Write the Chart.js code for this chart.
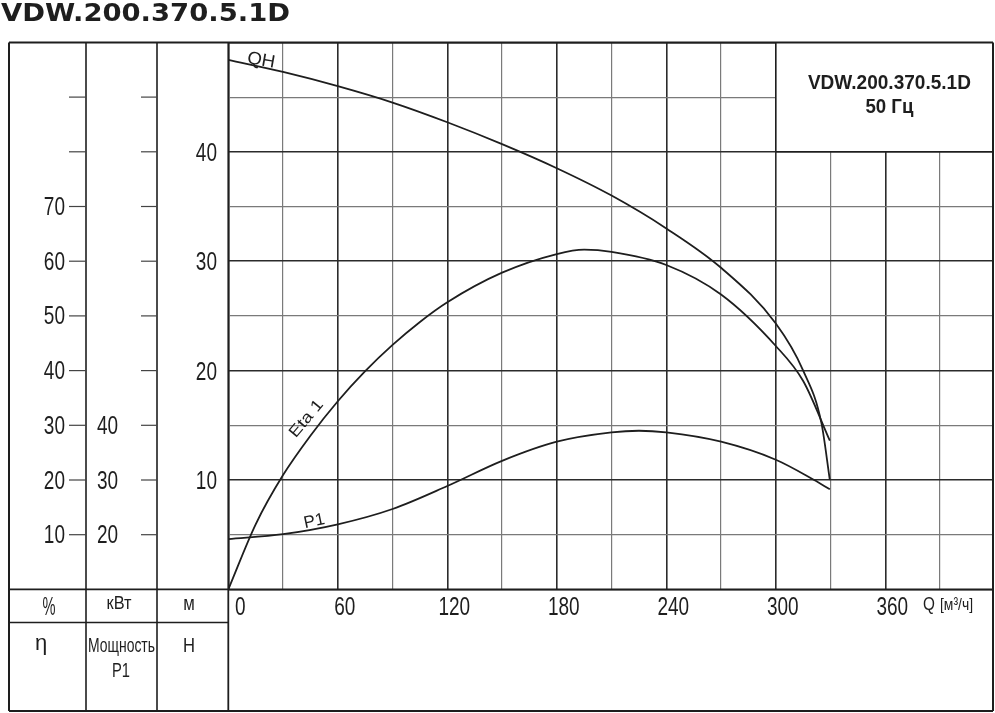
<!DOCTYPE html>
<html>
<head>
<meta charset="utf-8">
<script src="https://cdn.jsdelivr.net/npm/chart.js@4.4.1/dist/chart.umd.min.js"></script>
<style>
  html, body { margin: 0; padding: 0; background: #fff; }
  canvas { display: block; }
</style>
</head>
<body>
<canvas id="chart" width="995" height="713"></canvas>
<script>
// tick labels
const qTicks = [0, 60, 120, 180, 240, 300, 360];
const hTicks = [10, 20, 30, 40];
const etaTicks = [10, 20, 30, 40, 50, 60, 70];
const pTicks = [20, 30, 40];

// QH curve, m
const qhQ = [0, 30, 60, 90, 120, 150, 180, 210, 240, 270, 300, 315, 325, 329.6];
const qhH = [48.4, 47.3, 46.0, 44.5, 42.7, 40.7, 38.5, 36.0, 33.0, 29.4, 24.3, 20.0, 15.2, 10.0];

// Eta 1, %
const etaQ = [0, 15, 30, 45, 60, 75, 90, 105, 120, 150, 180, 195, 210, 240, 270, 300, 315, 329.6];
const etaV = [0, 11.9, 20.9, 28.1, 34.4, 39.9, 44.7, 48.9, 52.5, 57.9, 61.3, 62.1, 61.7, 59.3, 53.9, 44.5, 38.1, 27.2];

// P1, kW
const pQ = [0, 30, 60, 90, 120, 150, 180, 210, 225, 240, 270, 300, 321, 329.6];
const pV = [19.2, 20.1, 21.9, 24.7, 28.9, 33.5, 37.0, 38.7, 39.0, 38.7, 37.0, 33.7, 30.0, 28.3];

const ink = '#1e1e1e';
const toXY = (xs, ys) => xs.map((x, i) => ({ x: x, y: ys[i] }));

function text(ctx, s, x, y, o) {
  ctx.save();
  ctx.font = o.font;
  ctx.fillStyle = ink;
  ctx.textBaseline = 'alphabetic';
  ctx.textAlign = 'left';
  let w = ctx.measureText(s).width;
  let sx = o.w ? o.w / w : (o.sx || 1);
  ctx.translate(x, y);
  if (o.rot) ctx.rotate(o.rot * Math.PI / 180);
  ctx.scale(sx, 1);
  let off = 0;
  if (o.align === 'center') off = -w / 2;
  if (o.align === 'right') off = -w;
  ctx.fillText(s, off, 0);
  ctx.restore();
}

function line(ctx, x1, y1, x2, y2, lw) {
  ctx.beginPath();
  ctx.lineWidth = lw;
  ctx.moveTo(x1, y1);
  ctx.lineTo(x2, y2);
  ctx.stroke();
}

const decor = {
  id: 'decor',
  afterDraw(chart) {
    const ctx = chart.ctx;
    const a = chart.chartArea;
    const sx = chart.scales.x, sy = chart.scales.y, se = chart.scales.eta, sp = chart.scales.kw;
    const c1 = 9, c2 = 86, c3 = 157, bottom = 711;

    // legend box
    const bx = sx.getPixelForValue(300), by = sy.getPixelForValue(40);
    ctx.save();
    ctx.fillStyle = '#fff';
    ctx.fillRect(bx, a.top, a.right - bx, by - a.top);
    ctx.strokeStyle = ink;
    line(ctx, bx, a.top, bx, by, 1.6);
    line(ctx, bx, by, a.right, by, 1.6);

    // frame
    line(ctx, c1, a.top, a.right, a.top, 2);
    line(ctx, c1, a.top, c1, bottom, 2);
    line(ctx, a.right, a.top, a.right, bottom, 2);
    line(ctx, c1, bottom, a.right, bottom, 2);
    line(ctx, c2, a.top, c2, bottom, 1.6);
    line(ctx, c3, a.top, c3, bottom, 1.6);
    line(ctx, a.left, a.top, a.left, bottom, 1.8);
    line(ctx, c1, a.bottom, a.right, a.bottom, 1.8);
    line(ctx, c1, 622.5, a.left, 622.5, 1.6);

    // small ticks in the left columns
    ctx.strokeStyle = '#444';
    for (let v = 5; v < 50; v += 5) {
      const y = sy.getPixelForValue(v);
      line(ctx, 69, y, c2, y, 1.2);
      line(ctx, 141, y, c3, y, 1.2);
    }
    ctx.restore();

    const tf = '25px "Liberation Sans", Arial, sans-serif';
    etaTicks.forEach(v => text(ctx, String(v), 65, se.getPixelForValue(v) + 8.5, { font: tf, sx: 0.76, align: 'right' }));
    pTicks.forEach(v => text(ctx, String(v), 97, sp.getPixelForValue(v) + 8.5, { font: tf, sx: 0.76 }));
    hTicks.forEach(v => text(ctx, String(v), 217, sy.getPixelForValue(v) + 9, { font: tf, sx: 0.76, align: 'right' }));
    qTicks.forEach(v => {
      if (v === 0) text(ctx, '0', 235, 615, { font: tf, sx: 0.76 });
      else text(ctx, String(v), sx.getPixelForValue(v) + 7, 615, { font: tf, sx: 0.76, align: 'center' });
    });
    text(ctx, 'Q', 923, 610, { font: '18px "Liberation Sans", Arial, sans-serif', sx: 0.85 });
    text(ctx, '[м³/ч]', 940, 610, { font: '17px "Liberation Sans", Arial, sans-serif', w: 33 });

    // column headers
    text(ctx, '%', 49, 615, { font: '25px "Liberation Sans", Arial, sans-serif', w: 13, align: 'center' });
    text(ctx, 'кВт', 119, 609, { font: '19px "Liberation Sans", Arial, sans-serif', w: 25, align: 'center' });
    text(ctx, 'м', 189, 610, { font: '21px "Liberation Sans", Arial, sans-serif', sx: 0.8, align: 'center' });
    text(ctx, 'η', 41, 650, { font: '22px "Liberation Sans", Arial, sans-serif', align: 'center' });
    text(ctx, 'Мощность', 121.5, 652, { font: '21px "Liberation Sans", Arial, sans-serif', w: 67, align: 'center' });
    text(ctx, 'P1', 121, 677, { font: '20px "Liberation Sans", Arial, sans-serif', w: 18, align: 'center' });
    text(ctx, 'H', 189, 652, { font: '21px "Liberation Sans", Arial, sans-serif', w: 12, align: 'center' });

    // legend text
    const lx = (bx + a.right) / 2 + 5;
    text(ctx, 'VDW.200.370.5.1D', lx, 89, { font: 'bold 21px "Liberation Sans", Arial, sans-serif', w: 163, align: 'center' });
    text(ctx, '50 Гц', lx, 112.5, { font: 'bold 21px "Liberation Sans", Arial, sans-serif', w: 48, align: 'center' });

    // curve names
    text(ctx, 'QH', sx.getPixelForValue(10), sy.getPixelForValue(48.3) + 2, { font: '18px "Liberation Sans", Arial, sans-serif', w: 28, rot: 10 });
    text(ctx, 'Eta 1', sx.getPixelForValue(37), se.getPixelForValue(27.6), { font: '16px "Liberation Sans", Arial, sans-serif', w: 44, rot: -50 });
    text(ctx, 'P1', sx.getPixelForValue(42), sp.getPixelForValue(21.2), { font: '17px "Liberation Sans", Arial, sans-serif', w: 21, rot: -12 });

    // title
    text(ctx, 'VDW.200.370.5.1D', 1, 20.7, { font: 'bold 24px "DejaVu Sans", Verdana, sans-serif', w: 289 });
  }
};

const gridColor = (c, step) => (c.tick && c.tick.value % step === 0) ? '#2b2b2b' : '#7a7a7a';
const gridWidth = (c, step) => (c.tick && c.tick.value % step === 0) ? 1.6 : 1.2;

new Chart(document.getElementById('chart').getContext('2d'), {
  type: 'line',
  data: {
    datasets: [
      { label: 'QH', data: toXY(qhQ, qhH), yAxisID: 'y' },
      { label: 'Eta 1', data: toXY(etaQ, etaV), yAxisID: 'eta' },
      { label: 'P1', data: toXY(pQ, pV), yAxisID: 'kw' },
    ],
  },
  options: {
    responsive: false,
    devicePixelRatio: 1,
    animation: false,
    layout: { padding: { left: 228.3, top: 42.4, right: 2, bottom: 123.6 } },
    elements: {
      line: { borderColor: ink, borderWidth: 1.8, cubicInterpolationMode: 'monotone', fill: false },
      point: { radius: 0 },
    },
    plugins: { legend: { display: false }, tooltip: { enabled: false } },
    scales: {
      x: {
        type: 'linear',
        min: 0,
        max: 419,
        ticks: { stepSize: 30, display: false },
        afterBuildTicks: s => { s.ticks = s.ticks.filter(t => t.value % 30 === 0); },
        grid: { drawTicks: false, color: c => gridColor(c, 60), lineWidth: c => gridWidth(c, 60) },
        border: { display: false },
      },
      y: {
        type: 'linear',
        min: 0,
        max: 50,
        ticks: { stepSize: 5, display: false },
        grid: { drawTicks: false, color: c => gridColor(c, 10), lineWidth: c => gridWidth(c, 10) },
        border: { display: false },
      },
      eta: { type: 'linear', min: 0, max: 100, display: false },
      kw: { type: 'linear', min: 10, max: 110, display: false },
    },
  },
  plugins: [decor],
});
</script>
</body>
</html>
